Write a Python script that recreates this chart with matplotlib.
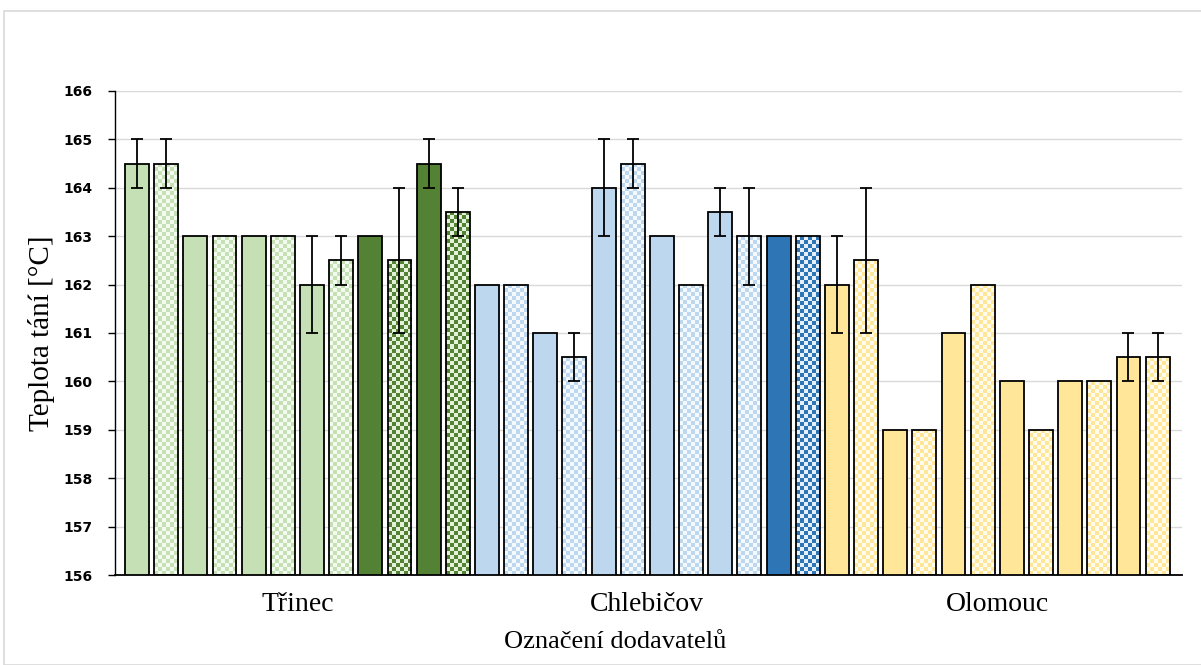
import numpy as np
import matplotlib.pyplot as plt
from matplotlib.colors import to_rgb
from matplotlib.patches import Rectangle

# hodnoty
groups = ['Třinec', 'Chlebičov', 'Olomouc']
values = [164.5, 164.5, 163, 163, 163, 163, 162, 162.5, 163, 162.5, 164.5, 163.5,
          162, 162, 161, 160.5, 164, 164.5, 163, 162, 163.5, 163, 163, 163,
          162, 162.5, 159, 159, 161, 162, 160, 159, 160, 160, 160.5, 160.5]
errors = [0.5, 0.5, 0, 0, 0, 0, 1, 0.5, 0, 1.5, 0.5, 0.5,
          0, 0, 0, 0.5, 1, 0.5, 0, 0, 0.5, 1, 0, 0,
          1, 1.5, 0, 0, 0, 0, 0, 0, 0, 0, 0.5, 0.5]
colors = ['#C5E0B4'] * 8 + ['#548235'] * 4 + ['#BDD7EE'] * 10 + ['#2E75B6'] * 2 + ['#FFE699'] * 12
checker_bg = {'#C5E0B4': '#F3FAEF', '#548235': '#E4F2DA', '#BDD7EE': '#F4F9FD',
              '#2E75B6': '#E6F0FA', '#FFE699': '#FFFCEE'}
checkered = [i % 2 == 1 for i in range(len(values))]

plt.rcParams['font.family'] = ['Liberation Serif', 'DejaVu Serif']
fig = plt.figure(figsize=(12.01, 6.65), dpi=100)
fig.patches.append(Rectangle((0.003, 0.0), 1.2, 0.983, transform=fig.transFigure,
                             fill=False, edgecolor='#D9D9D9', linewidth=1.2))
ax = fig.add_axes([0.0958, 0.1353, 0.888, 0.7279])

x = np.arange(len(values))
base = 156
heights = [v - base for v in values]
faces = ['none' if c else col for c, col in zip(checkered, colors)]
bars = ax.bar(x, heights, bottom=base, width=0.82, color=faces,
              edgecolor='black', linewidth=1.3, zorder=3)

# šachovnicová výplň pro lichá měření
for b, col, chk in zip(bars, colors, checkered):
    if not chk:
        continue
    nx = 6
    ny = max(1, int(round(b.get_height() * 12)))
    board = (np.indices((ny, nx)).sum(axis=0) % 2).astype(bool)
    img = np.zeros((ny, nx, 3))
    img[board] = to_rgb(col)
    img[~board] = to_rgb(checker_bg[col])
    im = ax.imshow(img, extent=[b.get_x(), b.get_x() + b.get_width(),
                                b.get_y(), b.get_y() + b.get_height()],
                   aspect='auto', interpolation='nearest', zorder=2)
    im.set_clip_path(b)

for xi, v, e in zip(x, values, errors):
    if e > 0:
        ax.errorbar(xi, v, yerr=e, fmt='none', ecolor='black', elinewidth=1.3,
                    capsize=4, capthick=1.3, zorder=4)

ax.set_xlim(-0.754, 35.82)
ax.set_ylim(156, 166)
ax.set_yticks(range(156, 167))
ax.set_yticklabels([str(t) for t in range(156, 167)],
                   fontfamily='DejaVu Sans', fontweight='bold', fontsize=10)
ax.yaxis.grid(True, color='#D9D9D9', linewidth=1)
ax.set_axisbelow(True)
ax.set_xticks([5.5, 17.5, 29.5])
ax.set_xticklabels(groups, fontsize=20)
ax.tick_params(axis='x', length=0, pad=12)
ax.tick_params(axis='y', length=5, direction='out', width=1, pad=11)
for s in ['top', 'right']:
    ax.spines[s].set_visible(False)
ax.spines['left'].set_linewidth(1)
ax.spines['bottom'].set_linewidth(1.3)

ax.set_ylabel('Teplota tání [°C]', fontsize=21)
ax.yaxis.set_label_coords(-0.056, 0.5)
ax.set_xlabel('Označení dodavatelů', fontsize=19)
ax.xaxis.set_label_coords(0.469, -0.115)

fig.savefig('out.png', dpi=100)
